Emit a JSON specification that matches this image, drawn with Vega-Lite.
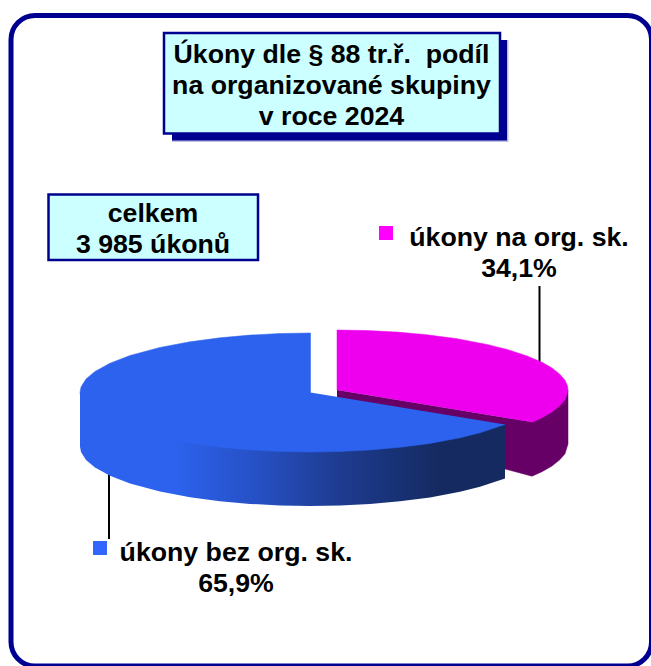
{"$schema":"https://vega.github.io/schema/vega-lite/v6.json","width":651,"height":666,"padding":0,"autosize":{"type":"none"},"background":"white","config":{"view":{"stroke":null},"text":{"font":"Liberation Sans","fontWeight":"bold","fontSize":26.7,"lineHeight":31,"color":"#000000","align":"center","baseline":"alphabetic","lineBreak":"\n"}},
"datasets":{"outline":[
{"part":"magentaSide","x":337,"y":390},{"part":"magentaSide","x":532,"y":422},{"part":"magentaSide","x":568,"y":390},{"part":"magentaSide","x":568,"y":444},{"part":"magentaSide","x":565,"y":453.7},{"part":"magentaSide","x":560,"y":459.6},{"part":"magentaSide","x":552,"y":466},{"part":"magentaSide","x":542,"y":471.7},{"part":"magentaSide","x":532,"y":476.2},{"part":"magentaSide","x":505,"y":469},{"part":"magentaSide","x":337,"y":410},
{"part":"magentaTop","x":337,"y":390},{"part":"magentaTop","x":337,"y":330},{"part":"magentaTop","x":367,"y":330.5},{"part":"magentaTop","x":397,"y":332.1},{"part":"magentaTop","x":427,"y":334.8},{"part":"magentaTop","x":457,"y":338.7},{"part":"magentaTop","x":487,"y":344.4},{"part":"magentaTop","x":507,"y":349.4},{"part":"magentaTop","x":527,"y":355.9},{"part":"magentaTop","x":542,"y":362.3},{"part":"magentaTop","x":552,"y":368},{"part":"magentaTop","x":560,"y":374.4},{"part":"magentaTop","x":565,"y":380.3},{"part":"magentaTop","x":567.5,"y":386},{"part":"magentaTop","x":568,"y":390},{"part":"magentaTop","x":567,"y":394},{"part":"magentaTop","x":565,"y":399.7},{"part":"magentaTop","x":560,"y":405.6},{"part":"magentaTop","x":552,"y":412},{"part":"magentaTop","x":542,"y":417.7},{"part":"magentaTop","x":532,"y":422.2},
{"part":"blueSide","x":80,"y":392.5},{"part":"blueSide","x":505,"y":424.4},{"part":"blueSide","x":505,"y":478.4},{"part":"blueSide","x":480,"y":486.8},{"part":"blueSide","x":460,"y":491.8},{"part":"blueSide","x":430,"y":497.4},{"part":"blueSide","x":400,"y":501.3},{"part":"blueSide","x":370,"y":503.9},{"part":"blueSide","x":340,"y":505.5},{"part":"blueSide","x":310,"y":506},{"part":"blueSide","x":280,"y":505.5},{"part":"blueSide","x":250,"y":503.9},{"part":"blueSide","x":220,"y":501.2},{"part":"blueSide","x":190,"y":497.2},{"part":"blueSide","x":160,"y":491.6},{"part":"blueSide","x":130,"y":483.5},{"part":"blueSide","x":110,"y":475.8},{"part":"blueSide","x":95,"y":467.6},{"part":"blueSide","x":86,"y":460},{"part":"blueSide","x":81,"y":452},{"part":"blueSide","x":80,"y":446.5},
{"part":"blueTop","x":310.5,"y":392.5},{"part":"blueTop","x":310.5,"y":333},{"part":"blueTop","x":280,"y":333.5},{"part":"blueTop","x":250,"y":335.1},{"part":"blueTop","x":220,"y":337.8},{"part":"blueTop","x":190,"y":341.8},{"part":"blueTop","x":160,"y":347.4},{"part":"blueTop","x":130,"y":355.5},{"part":"blueTop","x":110,"y":363.2},{"part":"blueTop","x":95,"y":371.4},{"part":"blueTop","x":86,"y":379},{"part":"blueTop","x":81,"y":387},{"part":"blueTop","x":80,"y":392.5},{"part":"blueTop","x":81,"y":398},{"part":"blueTop","x":86,"y":406},{"part":"blueTop","x":95,"y":413.6},{"part":"blueTop","x":110,"y":421.8},{"part":"blueTop","x":130,"y":429.5},{"part":"blueTop","x":160,"y":437.6},{"part":"blueTop","x":190,"y":443.2},{"part":"blueTop","x":220,"y":447.2},{"part":"blueTop","x":250,"y":449.9},{"part":"blueTop","x":280,"y":451.5},{"part":"blueTop","x":310,"y":452},{"part":"blueTop","x":340,"y":451.5},{"part":"blueTop","x":370,"y":449.9},{"part":"blueTop","x":400,"y":447.3},{"part":"blueTop","x":430,"y":443.4},{"part":"blueTop","x":460,"y":437.8},{"part":"blueTop","x":480,"y":432.8},{"part":"blueTop","x":505,"y":424.4}
]},
"data":{"name":"outline"},
"layer":[
{"mark":{"type":"rect","fill":"white","stroke":"#000090","strokeWidth":5,"cornerRadius":24},"data":{"values":[{"item":"frame"}]},"encoding":{"x":{"datum":11,"type":"quantitative","scale":{"domain":[0,651],"nice":false,"zero":false},"axis":null},"x2":{"datum":651.5},"y":{"datum":15.5,"type":"quantitative","scale":{"domain":[0,666],"range":[0,666],"nice":false,"zero":false},"axis":null},"y2":{"datum":666}}},
{"mark":{"type":"rect","fill":"#000090","opacity":0.25},"data":{"values":[{"item":"title shadow blur"}]},"encoding":{"x":{"datum":172,"type":"quantitative"},"x2":{"datum":508.5},"y":{"datum":40,"type":"quantitative"},"y2":{"datum":142}}},
{"mark":{"type":"rect","fill":"#000090"},"data":{"values":[{"item":"title shadow"}]},"encoding":{"x":{"datum":172,"type":"quantitative"},"x2":{"datum":507},"y":{"datum":40,"type":"quantitative"},"y2":{"datum":140.5}}},
{"mark":{"type":"rect","fill":"#CCFFFF","stroke":"#000090","strokeWidth":2.5},"data":{"values":[{"item":"title box"}]},"encoding":{"x":{"datum":164,"type":"quantitative"},"x2":{"datum":500},"y":{"datum":33,"type":"quantitative"},"y2":{"datum":133.5}}},
{"mark":{"type":"text"},"data":{"values":[{"label":"Úkony dle § 88 tr.ř. \u00a0podíl\nna organizované skupiny\nv roce 2024"}]},"encoding":{"text":{"field":"label"},"x":{"datum":331.5,"type":"quantitative"},"y":{"datum":63,"type":"quantitative"}}},
{"mark":{"type":"rect","fill":"#CCFFFF","stroke":"#000090","strokeWidth":2.5},"data":{"values":[{"item":"total box"}]},"encoding":{"x":{"datum":48.5,"type":"quantitative"},"x2":{"datum":258},"y":{"datum":194.5,"type":"quantitative"},"y2":{"datum":260}}},
{"mark":{"type":"text"},"data":{"values":[{"label":"celkem\n3 985 úkonů"}]},"encoding":{"text":{"field":"label"},"x":{"datum":153,"type":"quantitative"},"y":{"datum":222,"type":"quantitative"}}},
{"mark":{"type":"rule","color":"#000000","strokeWidth":2},"data":{"values":[{"item":"leader"}]},"encoding":{"x":{"datum":539.5,"type":"quantitative"},"y":{"datum":286,"type":"quantitative"},"y2":{"datum":362}}},
{"mark":{"type":"rule","color":"#000000","strokeWidth":2},"data":{"values":[{"item":"leader"}]},"encoding":{"x":{"datum":109,"type":"quantitative"},"y":{"datum":470,"type":"quantitative"},"y2":{"datum":539}}},
{"transform":[{"filter":"datum.part==='magentaSide'"}],"mark":{"type":"line","fill":"#660066","stroke":"#660066","strokeWidth":0.5},"encoding":{"order":{"value":null},"x":{"field":"x","type":"quantitative"},"y":{"field":"y","type":"quantitative"}}},
{"transform":[{"filter":"datum.part==='magentaTop'"}],"mark":{"type":"line","fill":"#EE00EE","stroke":"#EE00EE","strokeWidth":0.5},"encoding":{"order":{"value":null},"x":{"field":"x","type":"quantitative"},"y":{"field":"y","type":"quantitative"}}},
{"transform":[{"filter":"datum.part==='blueSide'"}],"mark":{"type":"line","strokeWidth":0,"fill":{"gradient":"linear","x1":0,"y1":0,"x2":1,"y2":0,"stops":[{"offset":0,"color":"#2C62EE"},{"offset":0.22,"color":"#2C62EE"},{"offset":0.42,"color":"#2650C4"},{"offset":0.6,"color":"#1E3C92"},{"offset":0.85,"color":"#142A60"},{"offset":1,"color":"#142A60"}]}},"encoding":{"order":{"value":null},"x":{"field":"x","type":"quantitative"},"y":{"field":"y","type":"quantitative"}}},
{"transform":[{"filter":"datum.part==='blueTop'"}],"mark":{"type":"line","fill":"#2C62EE","stroke":"#2C62EE","strokeWidth":0.5},"encoding":{"order":{"value":null},"x":{"field":"x","type":"quantitative"},"y":{"field":"y","type":"quantitative"}}},
{"mark":{"type":"rect","fill":"#FF00FF"},"data":{"values":[{"item":"úkony na org. sk."}]},"encoding":{"x":{"datum":379,"type":"quantitative"},"x2":{"datum":393},"y":{"datum":226,"type":"quantitative"},"y2":{"datum":240}}},
{"mark":{"type":"rect","fill":"#3366FF"},"data":{"values":[{"item":"úkony bez org. sk."}]},"encoding":{"x":{"datum":93,"type":"quantitative"},"x2":{"datum":107},"y":{"datum":541,"type":"quantitative"},"y2":{"datum":555}}},
{"mark":{"type":"text"},"data":{"values":[{"label":"úkony na org. sk.\n34,1%"}]},"encoding":{"text":{"field":"label"},"x":{"datum":519,"type":"quantitative"},"y":{"datum":246,"type":"quantitative"}}},
{"mark":{"type":"text"},"data":{"values":[{"label":"úkony bez org. sk.\n65,9%"}]},"encoding":{"text":{"field":"label"},"x":{"datum":236,"type":"quantitative"},"y":{"datum":561,"type":"quantitative"}}}
]}
